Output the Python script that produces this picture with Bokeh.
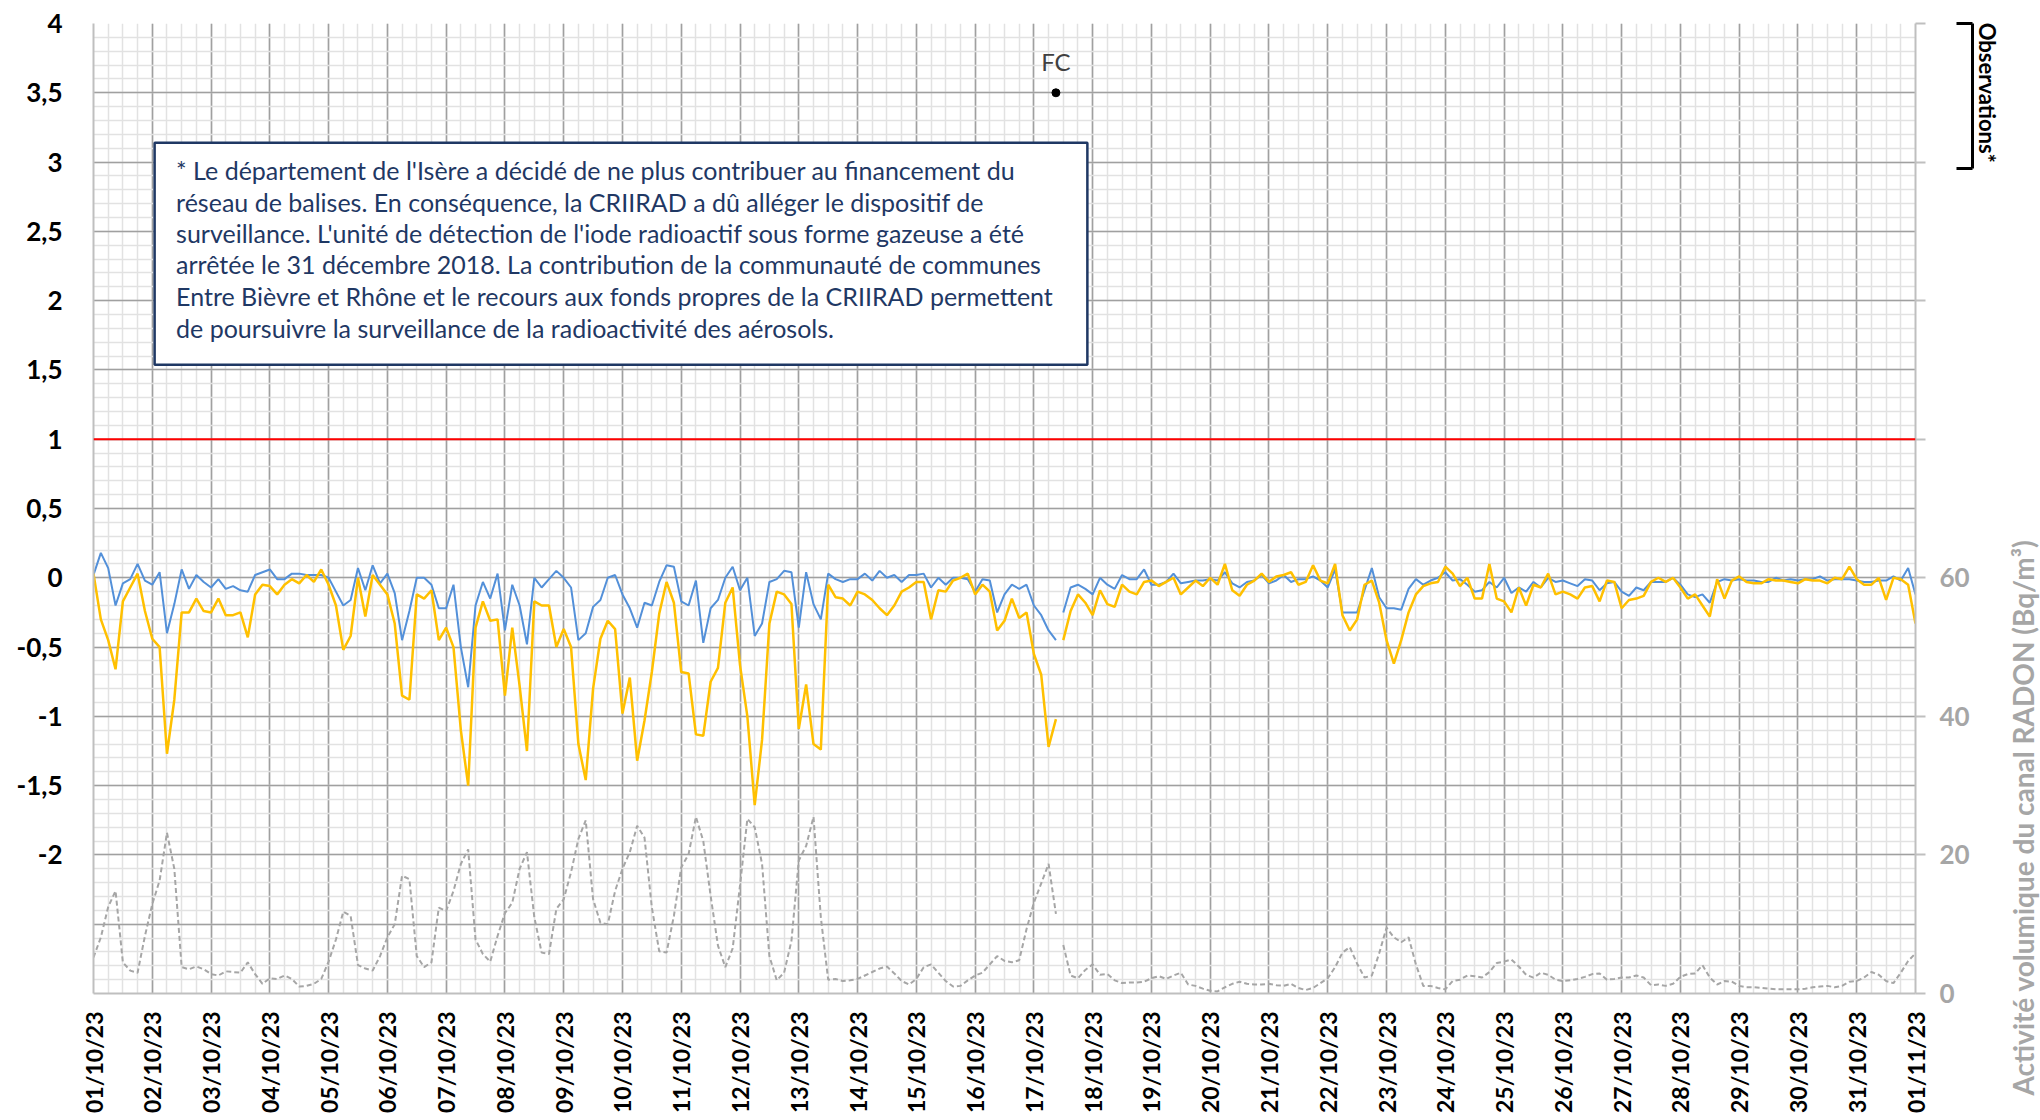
import numpy as np
import pandas as pd
from bokeh.plotting import figure
from bokeh.layouts import row
from bokeh.models import (Range1d, LinearAxis, FixedTicker, Span, Label,
                          BoxAnnotation, DatetimeTickFormatter)
from bokeh.embed import file_html
from bokeh.resources import INLINE

# ---------------- data (3-hourly readings, 01/10/23 00:00 -> 01/11/23 00:00) ----------------
T0 = "2023-10-01 00:00"
STEP_HOURS = 3
GAP_AFTER = 131          # last reading before the interruption of 17/10 (09:00)

BLUE = [
    0.02, 0.18, 0.07, -0.20, -0.04, -0.01, 0.10, -0.02,
    -0.05, 0.04, -0.40, -0.19, 0.06, -0.08, 0.02, -0.03,
    -0.07, -0.01, -0.08, -0.06, -0.09, -0.10, 0.02, 0.04,
    0.06, -0.01, -0.01, 0.03, 0.03, 0.02, 0.02, 0.02,
    0.00, -0.10, -0.20, -0.16, 0.07, -0.09, 0.09, -0.04,
    0.03, -0.11, -0.45, -0.24, 0.00, 0.00, -0.05, -0.22,
    -0.22, -0.05, -0.50, -0.79, -0.20, -0.03, -0.15, 0.03,
    -0.38, -0.05, -0.20, -0.48, 0.00, -0.07, -0.01, 0.05,
    0.00, -0.07, -0.45, -0.40, -0.21, -0.16, 0.00, 0.02,
    -0.12, -0.22, -0.36, -0.18, -0.20, -0.03, 0.09, 0.08,
    -0.17, -0.20, -0.02, -0.47, -0.22, -0.16, 0.00, 0.08,
    -0.09, 0.00, -0.42, -0.33, -0.03, -0.01, 0.05, 0.04,
    -0.36, 0.04, -0.19, -0.30, 0.03, -0.01, -0.03, -0.01,
    -0.01, 0.03, -0.02, 0.05, 0.00, 0.02, -0.03, 0.02,
    0.02, 0.03, -0.07, 0.00, -0.05, 0.00, 0.00, -0.01,
    -0.10, -0.01, -0.02, -0.25, -0.12, -0.05, -0.08, -0.05,
    -0.20, -0.27, -0.38, -0.45, -0.25, -0.07, -0.05, -0.08,
    -0.12, 0.00, -0.05, -0.08, 0.02, -0.01, -0.01, 0.06,
    -0.05, -0.05, -0.03, 0.03, -0.04, -0.03, -0.02, -0.02,
    -0.01, -0.02, 0.04, -0.04, -0.07, -0.03, -0.02, 0.02,
    -0.04, -0.02, 0.02, -0.03, -0.01, -0.01, 0.01, -0.02,
    -0.07, 0.06, -0.25, -0.25, -0.25, -0.09, 0.07, -0.14,
    -0.22, -0.22, -0.23, -0.08, -0.01, -0.05, -0.02, 0.00,
    0.04, -0.02, -0.01, -0.05, -0.10, -0.09, -0.03, -0.07,
    0.00, -0.11, -0.07, -0.10, -0.03, -0.07, 0.00, -0.03,
    -0.02, -0.04, -0.06, -0.01, -0.02, -0.09, -0.04, -0.03,
    -0.10, -0.13, -0.07, -0.09, -0.03, -0.03, -0.03, 0.00,
    -0.05, -0.12, -0.14, -0.12, -0.18, -0.03, -0.01, -0.02,
    -0.01, -0.02, -0.02, -0.03, -0.03, 0.00, -0.02, -0.01,
    -0.02, -0.01, -0.01, 0.01, -0.02, -0.01, -0.01, -0.01,
    -0.02, -0.03, -0.03, -0.02, -0.02, 0.01, -0.02, 0.07,
    -0.12,
]

YELLOW = [
    0.03, -0.30, -0.45, -0.66, -0.17, -0.07, 0.03, -0.24,
    -0.44, -0.50, -1.27, -0.88, -0.25, -0.25, -0.15, -0.24,
    -0.25, -0.15, -0.27, -0.27, -0.25, -0.43, -0.12, -0.05,
    -0.06, -0.12, -0.05, -0.01, -0.04, 0.02, -0.03, 0.06,
    -0.05, -0.20, -0.52, -0.42, 0.00, -0.28, 0.02, -0.05,
    -0.12, -0.33, -0.85, -0.88, -0.12, -0.15, -0.09, -0.45,
    -0.36, -0.50, -1.10, -1.50, -0.36, -0.17, -0.31, -0.30,
    -0.85, -0.36, -0.78, -1.25, -0.17, -0.20, -0.20, -0.50,
    -0.37, -0.50, -1.20, -1.46, -0.80, -0.44, -0.31, -0.37,
    -0.98, -0.72, -1.32, -1.03, -0.68, -0.26, -0.03, -0.18,
    -0.68, -0.69, -1.13, -1.14, -0.75, -0.65, -0.18, -0.07,
    -0.63, -1.00, -1.64, -1.17, -0.33, -0.10, -0.12, -0.19,
    -1.09, -0.77, -1.20, -1.24, -0.05, -0.14, -0.15, -0.20,
    -0.10, -0.12, -0.16, -0.22, -0.27, -0.20, -0.10, -0.07,
    -0.03, -0.03, -0.30, -0.09, -0.10, -0.02, 0.00, 0.03,
    -0.12, -0.05, -0.10, -0.38, -0.31, -0.15, -0.29, -0.25,
    -0.55, -0.70, -1.22, -1.02, -0.45, -0.24, -0.12, -0.18,
    -0.27, -0.09, -0.19, -0.21, -0.05, -0.10, -0.12, -0.03,
    -0.02, -0.06, -0.03, 0.00, -0.12, -0.07, -0.02, -0.06,
    0.00, -0.05, 0.10, -0.09, -0.13, -0.05, -0.02, 0.03,
    -0.03, 0.01, 0.02, 0.04, -0.05, -0.03, 0.09, -0.02,
    -0.04, 0.10, -0.27, -0.38, -0.30, -0.05, -0.02, -0.18,
    -0.45, -0.62, -0.45, -0.25, -0.12, -0.06, -0.04, -0.03,
    0.08, 0.03, -0.06, 0.00, -0.15, -0.15, 0.10, -0.15,
    -0.17, -0.25, -0.07, -0.20, -0.05, -0.07, 0.03, -0.12,
    -0.10, -0.12, -0.15, -0.07, -0.06, -0.17, -0.02, -0.03,
    -0.22, -0.16, -0.15, -0.13, -0.03, 0.00, -0.03, 0.00,
    -0.07, -0.15, -0.12, -0.20, -0.28, -0.01, -0.15, -0.02,
    0.01, -0.03, -0.04, -0.04, -0.01, -0.02, -0.02, -0.03,
    -0.04, -0.01, -0.02, -0.02, -0.04, 0.00, -0.01, 0.08,
    -0.01, -0.05, -0.05, 0.00, -0.16, 0.00, -0.01, -0.05,
    -0.33,
]

RADON = [
    5.2, 8.1, 12.5, 14.8, 4.5, 3.3, 3.0, 8.3,
    12.9, 16.3, 23.2, 18.0, 3.8, 3.5, 3.9, 3.5,
    2.8, 2.6, 3.2, 3.1, 3.0, 4.5, 2.8, 1.4,
    2.2, 2.1, 2.6, 2.1, 1.0, 1.1, 1.4, 2.1,
    4.6, 7.8, 11.8, 11.2, 4.1, 3.6, 3.3, 5.4,
    8.1, 10.0, 17.0, 16.5, 5.4, 3.8, 4.5, 12.4,
    11.9, 14.8, 18.7, 20.8, 7.8, 5.7, 4.6, 8.3,
    11.6, 13.1, 18.0, 20.4, 11.0, 5.9, 5.7, 12.2,
    13.6, 17.5, 22.3, 25.0, 13.6, 10.2, 10.0, 14.8,
    18.0, 20.4, 24.2, 22.5, 12.4, 6.1, 5.9, 11.2,
    18.2, 20.1, 25.5, 22.0, 14.1, 6.9, 3.8, 6.5,
    15.6, 25.2, 24.0, 18.7, 5.4, 1.9, 3.0, 7.6,
    19.2, 21.3, 25.5, 11.0, 2.0, 2.1, 1.8, 1.9,
    2.1, 2.6, 3.1, 3.6, 3.9, 2.9, 1.8, 1.3,
    2.1, 3.8, 4.2, 3.0, 1.8, 1.0, 1.1, 1.9,
    2.6, 3.0, 4.2, 5.4, 4.7, 4.5, 4.8, 9.3,
    13.1, 15.9, 18.7, 11.5, 7.0, 2.6, 2.2, 3.4,
    4.2, 2.7, 2.8, 1.9, 1.5, 1.6, 1.6, 1.7,
    2.2, 2.5, 2.1, 2.6, 3.0, 1.3, 1.1, 0.7,
    0.4, 0.3, 0.9, 1.4, 1.7, 1.4, 1.3, 1.3,
    1.4, 1.2, 1.1, 1.4, 0.8, 0.5, 0.8, 1.5,
    2.2, 3.8, 5.9, 6.7, 4.3, 2.3, 2.6, 5.8,
    9.5, 8.1, 7.4, 8.1, 4.2, 1.1, 1.1, 0.8,
    0.6, 1.8, 2.0, 2.6, 2.5, 2.3, 3.1, 4.4,
    4.6, 4.9, 3.9, 2.7, 2.3, 3.0, 2.7, 2.0,
    1.8, 1.9, 2.1, 2.4, 2.8, 2.9, 2.0, 2.1,
    2.3, 2.3, 2.6, 2.3, 1.2, 1.3, 1.1, 1.4,
    2.4, 2.8, 2.9, 4.1, 2.3, 1.3, 1.8, 1.7,
    1.1, 0.9, 0.9, 0.8, 0.7, 0.6, 0.6, 0.6,
    0.6, 0.7, 0.9, 1.0, 1.1, 0.9, 1.1, 1.7,
    1.8, 2.3, 3.1, 2.7, 1.8, 1.5, 3.0, 4.7,
    5.8,
]

DAY_LABELS = ["01/10/23", "02/10/23", "03/10/23", "04/10/23", "05/10/23", "06/10/23",
              "07/10/23", "08/10/23", "09/10/23", "10/10/23", "11/10/23", "12/10/23",
              "13/10/23", "14/10/23", "15/10/23", "16/10/23", "17/10/23", "18/10/23",
              "19/10/23", "20/10/23", "21/10/23", "22/10/23", "23/10/23", "24/10/23",
              "25/10/23", "26/10/23", "27/10/23", "28/10/23", "29/10/23", "30/10/23",
              "31/10/23", "01/11/23"]

LEFT_TICKS = [-3, -2.5, -2, -1.5, -1, -0.5, 0, 0.5, 1, 1.5, 2, 2.5, 3, 3.5, 4]
LEFT_LABELS = ["", "", "-2", "-1,5", "-1", "-0,5", "0", "0,5", "1", "1,5", "2",
               "2,5", "3", "3,5", "4"]
RIGHT_TICKS = [0, 20, 40, 60, 80, 100, 120, 140]
RIGHT_LABELS = ["0", "20", "40", "60", "", "", "", ""]

LIMIT = 1.0
FC_TIME = "2023-10-17 09:00"
FC_VALUE = 3.5
FC_TEXT = "FC"
OBS_TEXT = "Observations*"
OBS_SPAN = (2.955, 4.0)
OBS_CENTER = 3.5
RIGHT_TITLE = "Activité volumique du canal RADON (Bq/m³)"
TITLE_CENTER = -1.73     # left-axis position of the centre of the radon axis title
NOTE_LINES = [
    "* Le département de l'Isère a décidé de ne plus contribuer au financement du",
    "réseau de balises. En conséquence, la CRIIRAD a dû alléger le dispositif de",
    "surveillance. L'unité de détection de l'iode radioactif sous forme gazeuse a été",
    "arrêtée le 31 décembre 2018. La contribution de la communauté de communes",
    "Entre Bièvre et Rhône et le recours aux fonds propres de la CRIIRAD permettent",
    "de poursuivre la surveillance de la radioactivité des aérosols.",
]

# ---------------- build ----------------
DAY = 86400000.0
T0_MS = pd.Timestamp(T0).value / 1e6
STEP_MS = STEP_HOURS * 3600 * 1000.0


def day_ms(d):
    return T0_MS + d * DAY


n = len(BLUE)
t = T0_MS + np.arange(n) * STEP_MS


def with_gap(vals):
    v = np.array(vals, dtype=float)
    return np.concatenate([v[:GAP_AFTER + 1], [np.nan], v[GAP_AFTER + 1:]])


tx = np.concatenate([t[:GAP_AFTER + 1], [t[GAP_AFTER] + STEP_MS / 2], t[GAP_AFTER + 1:]])

FONT = "Lato"
W_MAIN, W_SIDE, H = 2005, 35, 1120
B_LEFT, B_TOP, B_BOTTOM = 93, 23, 127

p = figure(width=W_MAIN, height=H, x_axis_type="datetime",
           x_range=Range1d(day_ms(0), day_ms(31)), y_range=Range1d(-3, 4),
           output_backend="svg", toolbar_location=None,
           min_border_left=B_LEFT, min_border_right=W_MAIN - B_LEFT - 1822,
           min_border_top=B_TOP, min_border_bottom=B_BOTTOM)
p.outline_line_color = None
p.background_fill_color = "white"
p.border_fill_color = "white"
p.extra_y_ranges = {"radon": Range1d(0, 140)}

day_ticks = [day_ms(i) for i in range(len(DAY_LABELS))]
minor_x = [day_ms(i / 4.0) for i in range(4 * (len(DAY_LABELS) - 1) + 1)]
xt = FixedTicker(ticks=day_ticks, minor_ticks=minor_x)
minor_y = [round(-3 + 0.1 * i, 1) for i in range(71)]
yt = FixedTicker(ticks=LEFT_TICKS, minor_ticks=minor_y)


def no_minor(ax):
    ax.minor_tick_out = 0
    ax.minor_tick_in = 0


def bare(ax):
    no_minor(ax)
    ax.major_tick_out = 0
    ax.major_tick_in = 0
    ax.axis_line_color = None


xa = p.xaxis[0]
xa.ticker = xt
xa.formatter = DatetimeTickFormatter(days="%d/%m/%y", months="%d/%m/%y",
                                     hours="%d/%m/%y", years="%d/%m/%y")
xa.major_label_overrides = dict(zip(day_ticks, DAY_LABELS))
xa.major_label_orientation = np.pi / 2
xa.major_label_text_font = FONT
xa.major_label_text_font_style = "bold"
xa.major_label_text_font_size = "23px"
xa.major_label_text_color = "black"
xa.major_label_standoff = 18
xa.major_tick_out = 0
xa.major_tick_in = 0
no_minor(xa)
xa.axis_line_color = "#bfbfbf"
xa.axis_line_width = 2

ya = p.yaxis[0]
ya.ticker = yt
ya.major_label_overrides = dict(zip(LEFT_TICKS, LEFT_LABELS))
ya.major_label_text_font = FONT
ya.major_label_text_font_style = "bold"
ya.major_label_text_font_size = "26px"
ya.major_label_text_color = "black"
ya.major_label_standoff = 31
ya.major_tick_out = 0
ya.major_tick_in = 0
no_minor(ya)
ya.axis_line_color = "#bfbfbf"
ya.axis_line_width = 2

# radon axis (ticks + labels)
ra = LinearAxis(y_range_name="radon", ticker=FixedTicker(ticks=RIGHT_TICKS))
no_minor(ra)
ra.major_label_overrides = dict(zip(RIGHT_TICKS, RIGHT_LABELS))
ra.major_label_text_font = FONT
ra.major_label_text_font_style = "bold"
ra.major_label_text_font_size = "26px"
ra.major_label_text_color = "#a6a6a6"
ra.major_label_standoff = 14
ra.major_tick_out = 10
ra.major_tick_in = 0
ra.major_tick_line_color = "#bfbfbf"
ra.major_tick_line_width = 2
ra.axis_line_color = "#bfbfbf"
ra.axis_line_width = 2
p.add_layout(ra, "right")

# "Observations*" bracket
oa = LinearAxis(bounds=OBS_SPAN, ticker=FixedTicker(ticks=list(OBS_SPAN)))
no_minor(oa)
oa.major_label_overrides = {OBS_SPAN[0]: "", OBS_SPAN[1]: ""}
oa.major_label_standoff = 0
oa.major_tick_out = 0
oa.major_tick_in = 16
oa.major_tick_line_color = "black"
oa.major_tick_line_width = 3
oa.axis_line_color = "black"
oa.axis_line_width = 3
p.add_layout(oa, "right")

# "Observations*" caption (reads top -> bottom, centred on the bracket)
ob = LinearAxis(ticker=FixedTicker(ticks=[OBS_CENTER]))
bare(ob)
ob.major_label_overrides = {OBS_CENTER: OBS_TEXT}
ob.major_label_orientation = "vertical"
ob.major_label_standoff = 1
ob.major_label_text_font = FONT
ob.major_label_text_font_style = "bold"
ob.major_label_text_font_size = "22px"
ob.major_label_text_color = "black"
p.add_layout(ob, "right")

for g, tk in ((p.xgrid[0], xt), (p.ygrid[0], yt)):
    g.ticker = tk
    g.grid_line_color = "#a0a0a0"
    g.grid_line_width = 1.6
    g.minor_grid_line_color = "#e2e2e2"
    g.minor_grid_line_width = 1.5

# series
p.line(tx, with_gap(RADON), y_range_name="radon", line_color="#a6a6a6",
       line_width=2, line_dash="5 3")
p.line(tx, with_gap(BLUE), line_color="#5390d9", line_width=2)
p.line(tx, with_gap(YELLOW), line_color="#ffc000", line_width=2.5)

p.add_layout(Span(location=LIMIT, dimension="width", line_color="#ff0000", line_width=2))

fc_x = pd.Timestamp(FC_TIME).value / 1e6
p.scatter([fc_x], [FC_VALUE], size=8, color="black")
p.add_layout(Label(x=fc_x, y=3.726, text=FC_TEXT, text_align="center",
                   text_baseline="middle", text_font=FONT, text_font_size="24px",
                   text_color="#404040"))

# note box
p.add_layout(BoxAnnotation(left=day_ms(1.04), right=day_ms(16.91), top=3.14, bottom=1.537,
                           fill_color="white", fill_alpha=1.0, line_color="#1f3864",
                           line_width=2.5, line_alpha=1.0))
line_y = [2.943, 2.715, 2.488, 2.261, 2.034, 1.806]
for txt, yy in zip(NOTE_LINES, line_y):
    p.add_layout(Label(x=day_ms(1.405), y=yy, text=txt, text_align="left",
                       text_baseline="middle", text_font=FONT, text_font_size="25px",
                       text_color="#1f3864"))

# narrow strip on the right: its left axis carries the radon axis title (reads bottom -> top)
s = figure(width=W_SIDE, height=H, x_range=Range1d(0, 1), y_range=Range1d(-3, 4),
           output_backend="svg", toolbar_location=None,
           x_axis_location=None, y_axis_location="left",
           min_border_left=0, min_border_right=0, min_border_top=B_TOP,
           min_border_bottom=B_BOTTOM)
s.outline_line_color = None
s.background_fill_color = "white"
s.border_fill_color = "white"
s.xgrid.visible = False
s.ygrid.visible = False
sa = s.yaxis[0]
sa.ticker = FixedTicker(ticks=[TITLE_CENTER])
bare(sa)
sa.major_label_overrides = {TITLE_CENTER: RIGHT_TITLE}
sa.major_label_orientation = "vertical"
sa.major_label_standoff = 0
sa.major_label_text_font = FONT
sa.major_label_text_font_style = "bold"
sa.major_label_text_font_size = "28px"
sa.major_label_text_color = "#a6a6a6"

layout = row(p, s, spacing=0)
open("out.html", "w").write(file_html(layout, INLINE))
